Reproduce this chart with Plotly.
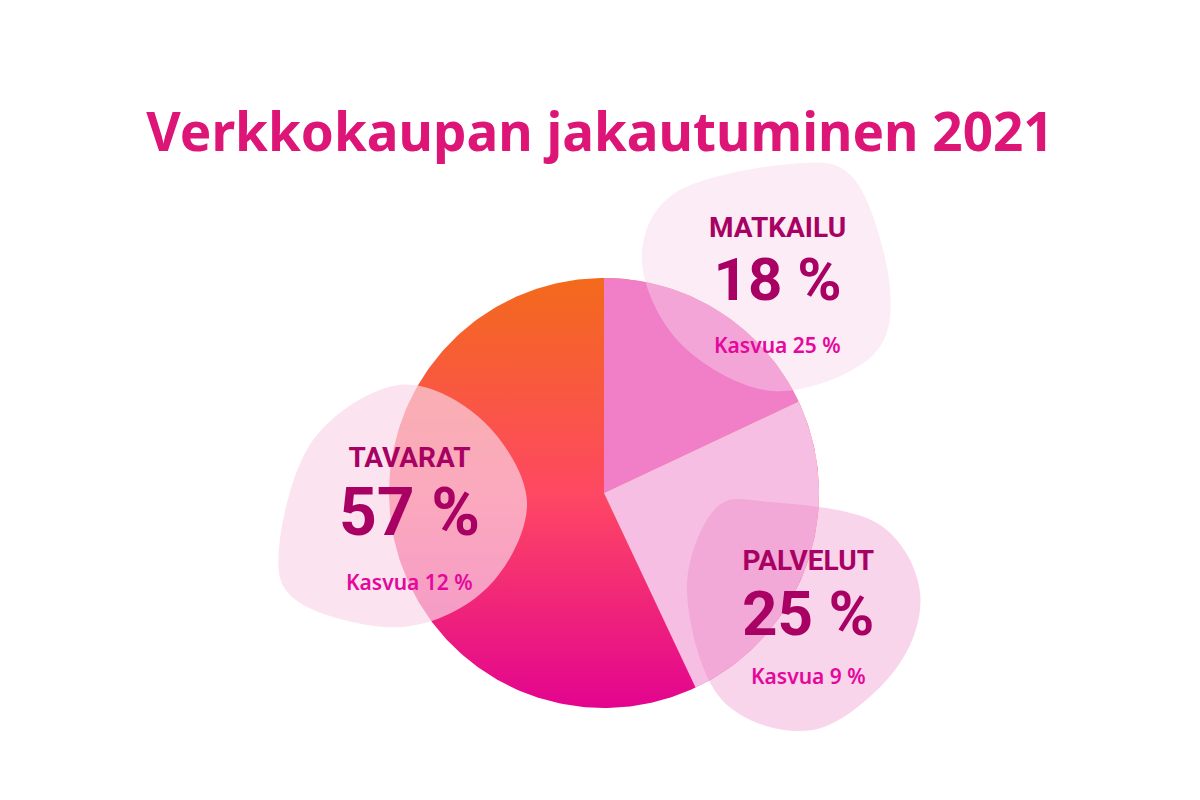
import math
import plotly.graph_objects as go

# ---------------- data ----------------
categories = ["MATKAILU", "PALVELUT", "TAVARAT"]
shares = [18, 25, 57]
growth = [25, 9, 12]
title_text = "Verkkokaupan jakautuminen 2021"

slice_colors = ["#f07fc8", "#f5bee2", "rgba(0,0,0,0)"]  # TAVARAT drawn with gradient
gradient_stops = [[0.0, "#e3048f"], [0.5, "#fe4862"], [1.0, "#f36a1b"]]

# ---------------- layout constants (pixels) ----------------
W, H = 1200, 800
CX, CY, R = 604, 493, 215

FONT = "Noto Sans"
BLOCK_FONT = "Roboto"
TITLE_COLOR = "#dc1577"
LABEL_COLOR = "#a80063"
GROWTH_COLOR = "#e4089b"


def py(p):
    """pixel-from-top -> data y"""
    return H - p


def blob_path(pts):
    """closed smooth path (Catmull-Rom -> cubic Bezier) through pixel points"""
    n = len(pts)
    P = [(x, py(y)) for x, y in pts]
    d = f"M {P[0][0]:.1f},{P[0][1]:.1f}"
    for i in range(n):
        p0, p1, p2, p3 = P[i - 1], P[i], P[(i + 1) % n], P[(i + 2) % n]
        c1 = (p1[0] + (p2[0] - p0[0]) / 6, p1[1] + (p2[1] - p0[1]) / 6)
        c2 = (p2[0] - (p3[0] - p1[0]) / 6, p2[1] - (p3[1] - p1[1]) / 6)
        d += f" C {c1[0]:.1f},{c1[1]:.1f} {c2[0]:.1f},{c2[1]:.1f} {p2[0]:.1f},{p2[1]:.1f}"
    return d + " Z"


fig = go.Figure()

# gradient backdrop disc (shows through the transparent TAVARAT slice)
t = [2 * math.pi * k / 360 for k in range(361)]
fig.add_trace(go.Scatter(
    x=[CX + R * math.sin(a) for a in t],
    y=[py(CY - R * math.cos(a)) for a in t],
    mode="lines", line=dict(width=0), fill="toself",
    fillgradient=dict(type="vertical", colorscale=gradient_stops,
                      start=py(CY + R), stop=py(CY - R)),
    hoverinfo="skip", showlegend=False,
))

fig.add_trace(go.Pie(
    labels=categories, values=shares, sort=False, direction="clockwise",
    rotation=0, marker=dict(colors=slice_colors, line=dict(width=0)),
    textinfo="none", hoverinfo="label+percent", showlegend=False,
    domain=dict(x=[(CX - R) / W, (CX + R) / W], y=[1 - (CY + R) / H, 1 - (CY - R) / H]),
))

# decorative blobs
blobs = {
    "MATKAILU": ([(790, 164), (855, 180), (890, 288), (870, 358), (773, 391),
                  (682, 345), (642, 262), (675, 193)], "rgba(246,212,235,0.45)"),
    "TAVARAT": ([(399, 385), (482, 420), (527, 502), (488, 587), (403, 627),
                 (300, 603), (279, 548), (313, 440)], "rgba(249,215,233,0.68)"),
    "PALVELUT": ([(770, 502), (877, 523), (920, 592), (895, 670), (813, 730),
                  (722, 700), (687, 592), (715, 509)], "rgba(237,128,197,0.33)"),
}
for name, (pts, col) in blobs.items():
    fig.add_shape(type="path", path=blob_path(pts), xref="x", yref="y",
                  fillcolor=col, line=dict(width=0), layer="above")

# text blocks: x centre, y centre of label+value block, line base size, value size, growth y
text_pos = {"MATKAILU": (777, 263, 48.5, 60, 345),
            "TAVARAT": (409, 496, 52.5, 66, 582),
            "PALVELUT": (808, 597, 50, 62, 676)}
for i, cat in enumerate(categories):
    x, yb, base, vsize, yg = text_pos[cat]
    txt = (f"<span style='font-size:28px'><b>{cat}</b></span><br>"
           f"<span style='font-size:{vsize}px'><b>{shares[i]} %</b></span>")
    fig.add_annotation(x=x, y=py(yb), text=txt, showarrow=False,
                       font=dict(family=BLOCK_FONT, size=base, color=LABEL_COLOR),
                       xanchor="center", yanchor="middle", align="center")
    fig.add_annotation(x=x, y=py(yg), text=f"Kasvua {growth[i]} %", showarrow=False,
                       font=dict(family=FONT, size=21, color=GROWTH_COLOR, weight=600),
                       xanchor="center", yanchor="middle")

fig.update_layout(
    width=W, height=H, margin=dict(l=0, r=0, t=0, b=0),
    paper_bgcolor="white", plot_bgcolor="white",
    title=dict(text=f"<b>{title_text}</b>", x=0.5, xanchor="center",
               y=1 - 132 / H, yanchor="middle",
               font=dict(family=FONT, size=53, color=TITLE_COLOR)),
    xaxis=dict(range=[0, W], visible=False, fixedrange=True),
    yaxis=dict(range=[0, H], visible=False, fixedrange=True),
    showlegend=False,
)

fig.write_html("out.html")
